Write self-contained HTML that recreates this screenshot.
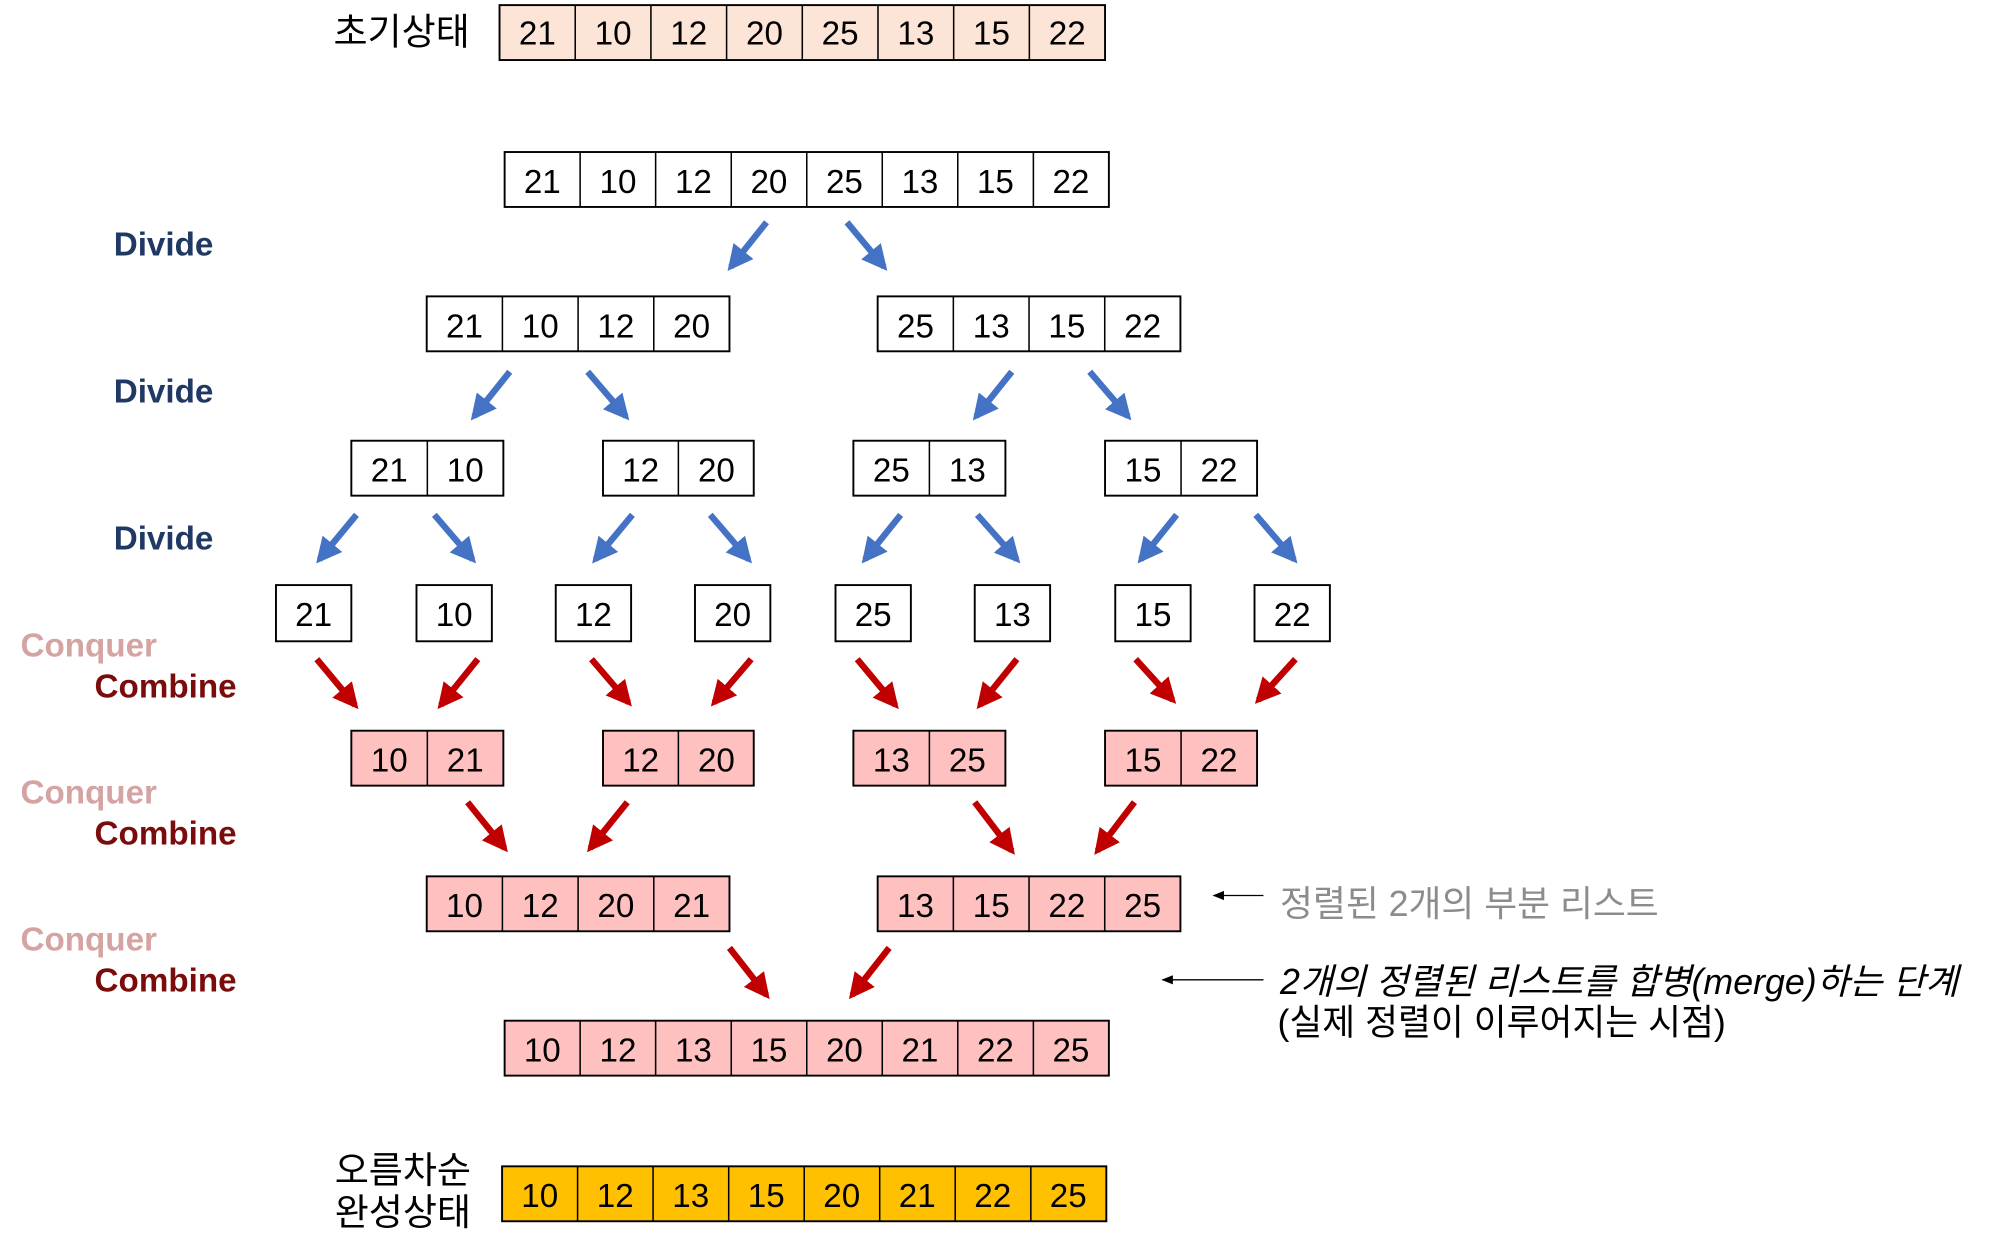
<!DOCTYPE html>
<html><head><meta charset="utf-8">
<style>
html,body{margin:0;padding:0;background:#fff;}
svg{display:block;}
.n{font-family:"Liberation Sans","Noto Sans CJK KR",sans-serif;font-size:26px;fill:#000;text-anchor:middle;}
.k{font-family:"Liberation Sans","Noto Sans CJK KR",sans-serif;font-size:29px;fill:#000;}
.d{font-family:"Liberation Sans",sans-serif;font-weight:bold;font-size:26px;fill:#1f3864;}
.cq{font-family:"Liberation Sans",sans-serif;font-weight:bold;font-size:26px;fill:#d6a3a3;}
.cb{font-family:"Liberation Sans",sans-serif;font-weight:bold;font-size:26px;fill:#7b0c0c;}
.b line{stroke:#4472c4;stroke-width:5;}
.r line{stroke:#c00000;stroke-width:5;}
</style></head><body>
<svg width="2000" height="1253" viewBox="0 0 1553 973" xmlns="http://www.w3.org/2000/svg">
<defs>
<marker id="hb" viewBox="0 0 10 10" refX="8" refY="5" markerWidth="4" markerHeight="4" orient="auto"><path d="M0,0 L10,5 L0,10 Z" fill="#4472c4"/></marker>
<marker id="hr" viewBox="0 0 10 10" refX="8" refY="5" markerWidth="4" markerHeight="4" orient="auto"><path d="M0,0 L10,5 L0,10 Z" fill="#c00000"/></marker>
<marker id="hk" viewBox="0 0 10 10" refX="9" refY="5" markerWidth="9" markerHeight="9" orient="auto"><path d="M0,1 L10,5 L0,9 Z" fill="#000"/></marker>
</defs>
<g transform="translate(-1,0) scale(0.992)">

<!-- Row 0 -->
<text class="k" x="262" y="35">초기상태</text>
<rect x="392" y="4" width="474" height="43" fill="#fce4d6" stroke="#000" stroke-width="1.5"/>
<g stroke="#000" stroke-width="1.2">
<line x1="451.25" y1="4" x2="451.25" y2="47"/><line x1="510.5" y1="4" x2="510.5" y2="47"/><line x1="569.75" y1="4" x2="569.75" y2="47"/><line x1="629" y1="4" x2="629" y2="47"/><line x1="688.25" y1="4" x2="688.25" y2="47"/><line x1="747.5" y1="4" x2="747.5" y2="47"/><line x1="806.75" y1="4" x2="806.75" y2="47"/>
</g>
<g class="n"><text x="421.6" y="35">21</text><text x="480.9" y="35">10</text><text x="540.1" y="35">12</text><text x="599.4" y="35">20</text><text x="658.6" y="35">25</text><text x="717.9" y="35">13</text><text x="777.1" y="35">15</text><text x="836.4" y="35">22</text></g>

<!-- Row 1 -->
<rect x="396" y="119" width="473" height="43" fill="#fff" stroke="#000" stroke-width="1.5"/>
<g stroke="#000" stroke-width="1.2">
<line x1="455.1" y1="119" x2="455.1" y2="162"/><line x1="514.2" y1="119" x2="514.2" y2="162"/><line x1="573.4" y1="119" x2="573.4" y2="162"/><line x1="632.5" y1="119" x2="632.5" y2="162"/><line x1="691.6" y1="119" x2="691.6" y2="162"/><line x1="750.7" y1="119" x2="750.7" y2="162"/><line x1="809.9" y1="119" x2="809.9" y2="162"/>
</g>
<g class="n"><text x="425.5" y="151">21</text><text x="484.7" y="151">10</text><text x="543.8" y="151">12</text><text x="602.9" y="151">20</text><text x="662" y="151">25</text><text x="721.1" y="151">13</text><text x="780.2" y="151">15</text><text x="839.3" y="151">22</text></g>

<text class="d" x="90" y="200">Divide</text>
<g class="b"><line x1="601" y1="174" x2="573" y2="209" marker-end="url(#hb)"/><line x1="664" y1="174" x2="693" y2="209" marker-end="url(#hb)"/></g>

<!-- Row 2 -->
<g fill="#fff" stroke="#000" stroke-width="1.5"><rect x="335" y="232" width="237" height="43"/><rect x="688" y="232" width="237" height="43"/></g>
<g stroke="#000" stroke-width="1.2">
<line x1="394.25" y1="232" x2="394.25" y2="275"/><line x1="453.5" y1="232" x2="453.5" y2="275"/><line x1="512.75" y1="232" x2="512.75" y2="275"/>
<line x1="747.25" y1="232" x2="747.25" y2="275"/><line x1="806.5" y1="232" x2="806.5" y2="275"/><line x1="865.75" y1="232" x2="865.75" y2="275"/>
</g>
<g class="n"><text x="364.6" y="264">21</text><text x="423.9" y="264">10</text><text x="483.1" y="264">12</text><text x="542.4" y="264">20</text><text x="717.6" y="264">25</text><text x="776.9" y="264">13</text><text x="836.1" y="264">15</text><text x="895.4" y="264">22</text></g>

<text class="d" x="90" y="315">Divide</text>
<g class="b">
<line x1="400" y1="291" x2="372" y2="326" marker-end="url(#hb)"/><line x1="461" y1="291" x2="491" y2="326" marker-end="url(#hb)"/>
<line x1="793" y1="291" x2="765" y2="326" marker-end="url(#hb)"/><line x1="854" y1="291" x2="884" y2="326" marker-end="url(#hb)"/>
</g>

<!-- Row 3 -->
<g fill="#fff" stroke="#000" stroke-width="1.5"><rect x="276" y="345" width="119" height="43"/><rect x="473" y="345" width="118" height="43"/><rect x="669" y="345" width="119" height="43"/><rect x="866" y="345" width="119" height="43"/></g>
<g stroke="#000" stroke-width="1.2"><line x1="335.5" y1="345" x2="335.5" y2="388"/><line x1="532" y1="345" x2="532" y2="388"/><line x1="728.5" y1="345" x2="728.5" y2="388"/><line x1="925.5" y1="345" x2="925.5" y2="388"/></g>
<g class="n"><text x="305.7" y="377">21</text><text x="365.2" y="377">10</text><text x="502.5" y="377">12</text><text x="561.8" y="377">20</text><text x="698.7" y="377">25</text><text x="758.2" y="377">13</text><text x="895.7" y="377">15</text><text x="955.2" y="377">22</text></g>

<text class="d" x="90" y="430">Divide</text>
<g class="b">
<line x1="280" y1="403" x2="251" y2="438" marker-end="url(#hb)"/><line x1="341" y1="403" x2="371" y2="438" marker-end="url(#hb)"/>
<line x1="496" y1="403" x2="467" y2="438" marker-end="url(#hb)"/><line x1="557" y1="403" x2="587" y2="438" marker-end="url(#hb)"/>
<line x1="706" y1="403" x2="678" y2="438" marker-end="url(#hb)"/><line x1="766" y1="403" x2="797" y2="438" marker-end="url(#hb)"/>
<line x1="922" y1="403" x2="894" y2="438" marker-end="url(#hb)"/><line x1="984" y1="403" x2="1014" y2="438" marker-end="url(#hb)"/>
</g>

<!-- Row 4 -->
<g fill="#fff" stroke="#000" stroke-width="1.5">
<rect x="217" y="458" width="59" height="44"/><rect x="327" y="458" width="59" height="44"/><rect x="436" y="458" width="59" height="44"/><rect x="545" y="458" width="59" height="44"/>
<rect x="655" y="458" width="59" height="44"/><rect x="764" y="458" width="59" height="44"/><rect x="874" y="458" width="59" height="44"/><rect x="983" y="458" width="59" height="44"/>
</g>
<g class="n"><text x="246.5" y="490">21</text><text x="356.5" y="490">10</text><text x="465.5" y="490">12</text><text x="574.5" y="490">20</text><text x="684.5" y="490">25</text><text x="793.5" y="490">13</text><text x="903.5" y="490">15</text><text x="1012.5" y="490">22</text></g>

<text class="cq" x="17" y="514">Conquer</text>
<text class="cb" x="75" y="546">Combine</text>
<g class="r">
<line x1="249" y1="516" x2="279" y2="552" marker-end="url(#hr)"/><line x1="375" y1="516" x2="346" y2="552" marker-end="url(#hr)"/>
<line x1="464" y1="516" x2="493" y2="550" marker-end="url(#hr)"/><line x1="589" y1="516" x2="560" y2="550" marker-end="url(#hr)"/>
<line x1="672" y1="516" x2="702" y2="552" marker-end="url(#hr)"/><line x1="797" y1="516" x2="768" y2="552" marker-end="url(#hr)"/>
<line x1="890" y1="516" x2="919" y2="548" marker-end="url(#hr)"/><line x1="1015" y1="516" x2="986" y2="548" marker-end="url(#hr)"/>
</g>

<!-- Row 5 -->
<g fill="#ffc0c0" stroke="#000" stroke-width="1.5"><rect x="276" y="572" width="119" height="43"/><rect x="473" y="572" width="118" height="43"/><rect x="669" y="572" width="119" height="43"/><rect x="866" y="572" width="119" height="43"/></g>
<g stroke="#000" stroke-width="1.2"><line x1="335.5" y1="572" x2="335.5" y2="615"/><line x1="532" y1="572" x2="532" y2="615"/><line x1="728.5" y1="572" x2="728.5" y2="615"/><line x1="925.5" y1="572" x2="925.5" y2="615"/></g>
<g class="n"><text x="305.7" y="604">10</text><text x="365.2" y="604">21</text><text x="502.5" y="604">12</text><text x="561.8" y="604">20</text><text x="698.7" y="604">13</text><text x="758.2" y="604">25</text><text x="895.7" y="604">15</text><text x="955.2" y="604">22</text></g>

<text class="cq" x="17" y="629">Conquer</text>
<text class="cb" x="75" y="661">Combine</text>
<g class="r">
<line x1="367" y1="628" x2="396" y2="664" marker-end="url(#hr)"/><line x1="492" y1="628" x2="463" y2="664" marker-end="url(#hr)"/>
<line x1="764" y1="628" x2="793" y2="666" marker-end="url(#hr)"/><line x1="889" y1="628" x2="860" y2="666" marker-end="url(#hr)"/>
</g>

<!-- Row 6 -->
<g fill="#ffc0c0" stroke="#000" stroke-width="1.5"><rect x="335" y="686" width="237" height="43"/><rect x="688" y="686" width="237" height="43"/></g>
<g stroke="#000" stroke-width="1.2">
<line x1="394.25" y1="686" x2="394.25" y2="729"/><line x1="453.5" y1="686" x2="453.5" y2="729"/><line x1="512.75" y1="686" x2="512.75" y2="729"/>
<line x1="747.25" y1="686" x2="747.25" y2="729"/><line x1="806.5" y1="686" x2="806.5" y2="729"/><line x1="865.75" y1="686" x2="865.75" y2="729"/>
</g>
<g class="n"><text x="364.6" y="718">10</text><text x="423.9" y="718">12</text><text x="483.1" y="718">20</text><text x="542.4" y="718">21</text><text x="717.6" y="718">13</text><text x="776.9" y="718">15</text><text x="836.1" y="718">22</text><text x="895.4" y="718">25</text></g>

<line x1="990" y1="701" x2="951" y2="701" stroke="#000" stroke-width="1" marker-end="url(#hk)"/>
<text class="k" x="1003" y="717" style="fill:#8c8c8c;font-size:28px">정렬된 2개의 부분 리스트</text>

<text class="cq" x="17" y="744">Conquer</text>
<text class="cb" x="75" y="776">Combine</text>
<g class="r"><line x1="572" y1="742" x2="601" y2="779" marker-end="url(#hr)"/><line x1="697" y1="742" x2="668" y2="779" marker-end="url(#hr)"/></g>

<line x1="990" y1="767" x2="911" y2="767" stroke="#000" stroke-width="1" marker-end="url(#hk)"/>
<text class="k" x="1003" y="778" style="font-style:italic;font-size:28px">2개의 정렬된 리스트를 합병(merge)하는 단계</text>
<text class="k" x="1001" y="810" style="font-size:28px">(실제 정렬이 이루어지는 시점)</text>

<!-- Row 7 -->
<rect x="396" y="799" width="473" height="43" fill="#ffc0c0" stroke="#000" stroke-width="1.5"/>
<g stroke="#000" stroke-width="1.2">
<line x1="455.1" y1="799" x2="455.1" y2="842"/><line x1="514.2" y1="799" x2="514.2" y2="842"/><line x1="573.4" y1="799" x2="573.4" y2="842"/><line x1="632.5" y1="799" x2="632.5" y2="842"/><line x1="691.6" y1="799" x2="691.6" y2="842"/><line x1="750.7" y1="799" x2="750.7" y2="842"/><line x1="809.9" y1="799" x2="809.9" y2="842"/>
</g>
<g class="n"><text x="425.5" y="831">10</text><text x="484.7" y="831">12</text><text x="543.8" y="831">13</text><text x="602.9" y="831">15</text><text x="662" y="831">20</text><text x="721.1" y="831">21</text><text x="780.2" y="831">22</text><text x="839.3" y="831">25</text></g>

<!-- Final -->
<text class="k" x="263" y="926">오름차순</text>
<text class="k" x="263" y="959">완성상태</text>
<rect x="394" y="913" width="473" height="43" fill="#ffc000" stroke="#000" stroke-width="1.5"/>
<g stroke="#000" stroke-width="1.2">
<line x1="453.1" y1="913" x2="453.1" y2="956"/><line x1="512.2" y1="913" x2="512.2" y2="956"/><line x1="571.4" y1="913" x2="571.4" y2="956"/><line x1="630.5" y1="913" x2="630.5" y2="956"/><line x1="689.6" y1="913" x2="689.6" y2="956"/><line x1="748.7" y1="913" x2="748.7" y2="956"/><line x1="807.9" y1="913" x2="807.9" y2="956"/>
</g>
<g class="n"><text x="423.5" y="945">10</text><text x="482.6" y="945">12</text><text x="541.7" y="945">13</text><text x="600.8" y="945">15</text><text x="659.9" y="945">20</text><text x="719" y="945">21</text><text x="778.1" y="945">22</text><text x="837.2" y="945">25</text></g>
</g>
</svg>
</body></html>
